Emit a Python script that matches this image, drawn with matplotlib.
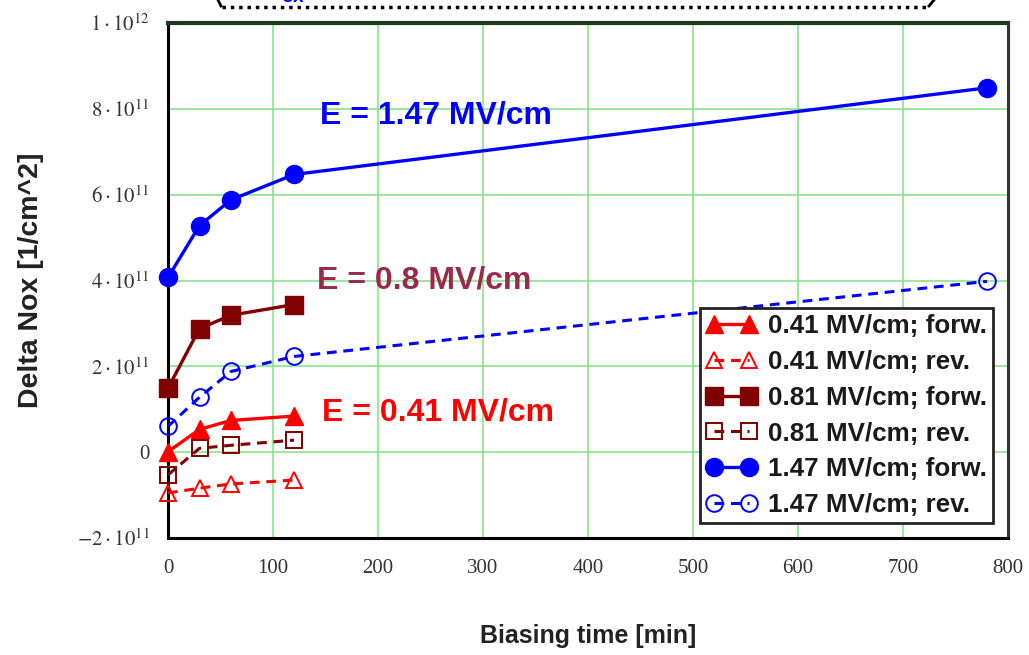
import matplotlib
matplotlib.use("Agg")
import matplotlib.pyplot as plt
from matplotlib.lines import Line2D
from matplotlib.ticker import FixedLocator, FixedFormatter

# Biasing times [min]
time_short = [0, 30, 60, 120]
time_long = [0, 30, 60, 120, 780]

# Delta Nox [1/cm^2] per field strength and sweep direction
e041_forw = [0.01e11, 0.53e11, 0.74e11, 0.84e11]
e041_rev = [-0.95e11, -0.84e11, -0.74e11, -0.65e11]
e081_forw = [1.49e11, 2.88e11, 3.19e11, 3.44e11]
e081_rev = [-0.53e11, 0.09e11, 0.16e11, 0.28e11]
e147_forw = [4.07e11, 5.28e11, 5.88e11, 6.47e11, 8.49e11]
e147_rev = [0.60e11, 1.28e11, 1.88e11, 2.23e11, 3.98e11]

series_labels = ["0.41 MV/cm; forw.", "0.41 MV/cm; rev.",
                 "0.81 MV/cm; forw.", "0.81 MV/cm; rev.",
                 "1.47 MV/cm; forw.", "1.47 MV/cm; rev."]

y_ticks = [-2e11, 0, 2e11, 4e11, 6e11, 8e11, 1e12]
y_tick_labels = [r"$-2\cdot10^{11}$", "0", r"$2\cdot10^{11}$", r"$4\cdot10^{11}$",
                 r"$6\cdot10^{11}$", r"$8\cdot10^{11}$", r"$1\cdot10^{12}$"]
x_ticks = [0, 100, 200, 300, 400, 500, 600, 700, 800]

field_notes = ["E = 1.47 MV/cm", "E = 0.8 MV/cm", "E = 0.41 MV/cm"]

plt.rcParams["mathtext.fontset"] = "stix"

W, H = 1029, 655
fig = plt.figure(figsize=(W / 100, H / 100), dpi=100)
ax = fig.add_axes([168 / W, 1 - 538 / H, (1008 - 168) / W, (538 - 23) / H])

RED = "#FF0000"
MAROON = "#800000"
BLUE = "#0000FF"
dash = (0, (3.2, 2.2))

ax.plot(time_short, e041_rev, color=RED, ls=dash, lw=2.2, marker="^", ms=11,
        mfc="none", mec=RED, mew=1.4, clip_on=False, label=series_labels[1], zorder=3)
ax.plot(time_short, e081_rev, color=MAROON, ls=dash, lw=2.2, marker="s", ms=12,
        mfc="none", mec=MAROON, mew=1.4, clip_on=False, label=series_labels[3], zorder=3)
ax.plot(time_long, e147_rev, color=BLUE, ls=dash, lw=2.2, marker="o", ms=12,
        mfc="none", mec=BLUE, mew=1.4, clip_on=False, label=series_labels[5], zorder=3)
ax.plot(time_short, e041_forw, color=RED, lw=2.4, marker="^", ms=13,
        clip_on=False, label=series_labels[0], zorder=4)
ax.plot(time_short, e081_forw, color=MAROON, lw=2.4, marker="s", ms=13,
        clip_on=False, label=series_labels[2], zorder=4)
ax.plot(time_long, e147_forw, color=BLUE, lw=2.4, marker="o", ms=13,
        clip_on=False, label=series_labels[4], zorder=4)

ax.set_xlim(0, 800)
ax.set_ylim(-2e11, 1e12)
ax.xaxis.set_major_locator(FixedLocator(x_ticks))
ax.yaxis.set_major_locator(FixedLocator(y_ticks))
ax.yaxis.set_major_formatter(FixedFormatter(y_tick_labels))
ax.grid(True, color="#7FE27F", lw=1.1, zorder=0)
ax.set_axisbelow(True)
ax.tick_params(length=0)
ax.tick_params(axis="y", pad=13, labelsize=15, labelcolor="#333333")
ax.tick_params(axis="x", pad=15, labelsize=15, labelcolor="#333333")
for lab in ax.get_xticklabels() + ax.get_yticklabels():
    lab.set_fontfamily("Liberation Serif")

for side, col, lw in [("left", "black", 2.2), ("bottom", "black", 2.2),
                      ("top", "#1E3A1E", 3.0), ("right", "#333333", 2.2)]:
    ax.spines[side].set_color(col)
    ax.spines[side].set_linewidth(lw)

ax.set_xlabel("Biasing time [min]", fontfamily="Liberation Sans", fontweight="bold",
              fontsize=18, labelpad=33, color="#222222")
ax.set_ylabel("Delta Nox [1/cm^2]", fontfamily="Liberation Sans", fontweight="bold",
              fontsize=20.5, labelpad=24, color="#222222")

note_kw = dict(fontfamily="Liberation Sans", fontweight="bold", fontsize=23,
               va="center", ha="left")
ax.text(145, 7.84e11, field_notes[0], color=BLUE, **note_kw)
ax.text(142, 4.0e11, field_notes[1], color="#9A2A4C", **note_kw)
ax.text(147, 0.93e11, field_notes[2], color=RED, **note_kw)

order = [3, 0, 4, 1, 5, 2]
handles, labels = ax.get_legend_handles_labels()
leg = ax.legend([handles[i] for i in order], [labels[i] for i in order],
                loc="upper right", bbox_to_anchor=(993 / W, 1 - 308 / H),
                bbox_transform=fig.transFigure, borderaxespad=0,
                numpoints=2, handlelength=1.95, handletextpad=0.4,
                borderpad=0.25, labelspacing=0.45, fancybox=False,
                prop=dict(family="Liberation Sans", weight="bold", size=18.7))
leg.get_frame().set_edgecolor("#222222")
leg.get_frame().set_linewidth(2.0)
leg.get_frame().set_alpha(1)
for t in leg.get_texts():
    t.set_color("#1A1A1A")

# partially visible dotted frame above the plot
fig.add_artist(Line2D([222 / W, 928 / W], [1 - 7 / H, 1 - 7 / H], color="black",
                      lw=2.5, ls=(0, (1, 1.4)), transform=fig.transFigure))
fig.add_artist(Line2D([218 / W, 221 / W], [1 - 0 / H, 1 - 6 / H], color="black",
                      lw=2.0, transform=fig.transFigure))
fig.add_artist(Line2D([929 / W, 934 / W], [1 - 6 / H, 1 - 0 / H], color="black",
                      lw=2.0, transform=fig.transFigure))
fig.text(293 / W, 1 + 2 / H, "ox", color=BLUE, fontfamily="Liberation Sans",
         fontweight="bold", fontsize=14, ha="center", va="center")

fig.savefig("out.png", dpi=100, facecolor="white")
